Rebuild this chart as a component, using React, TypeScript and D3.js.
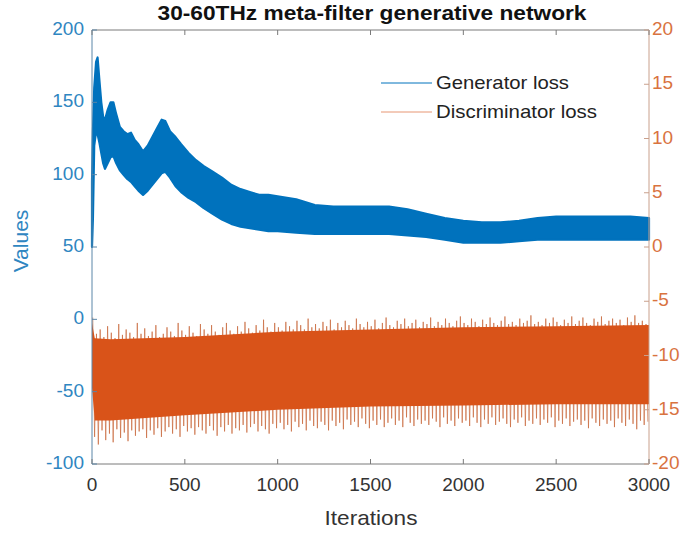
import React from "react";
import * as d3 from "d3";

// Generator loss envelope: [iteration, upper, lower] (left axis)
const genIter = [0, 5, 12, 22, 30, 40, 50, 60, 70, 85, 100, 115, 130, 150, 170, 190, 210, 230, 250, 275, 300, 325, 350, 375, 395, 420, 450, 480, 520, 560, 600, 650, 700, 750, 800, 850, 900, 950, 1000, 1100, 1200, 1300, 1400, 1500, 1600, 1700, 1800, 1900, 2000, 2100, 2200, 2300, 2400, 2500, 2600, 2700, 2800, 2900, 3000];
const genUpper = [95, 130, 160, 178, 181, 165, 150, 140, 138, 145, 150, 150, 142, 133, 130, 128, 129, 124, 121, 116, 120, 126, 132, 138, 137, 130, 126, 121, 115, 110, 106, 102, 98, 93, 90, 88, 86, 86, 85, 83, 79, 78, 78, 78, 78, 76, 73, 70, 68, 67, 67, 68, 70, 71, 71, 71, 71, 71, 70];
const genLower = [50, 70, 120, 130, 128, 122, 115, 108, 104, 108, 112, 113, 108, 103, 100, 97, 95, 92, 89, 86, 89, 93, 97, 101, 102, 98, 92, 88, 84, 81, 77, 73, 69, 66, 64, 63, 62, 61, 61, 60, 59, 59, 59, 59, 59, 58, 57, 55, 53, 53, 53, 54, 55, 55, 55, 55, 55, 55, 55];

// Discriminator loss dense core: [iteration, upper, lower] (right axis)
const discIter = [0, 15, 100, 500, 1000, 1500, 2000, 2500, 3000];
const discUpper = [-7, -8.4, -8.5, -8.3, -7.8, -7.6, -7.4, -7.3, -7.2];
const discLower = [-13, -16.0, -16.0, -15.5, -15.0, -14.7, -14.6, -14.5, -14.5];

// Discriminator local maxima / minima, one pair every 20 iterations
const discStep = 20;
const discPeakVals = [
  -6.5, -8.0, -7.6, -8.3, -7.3, -7.9, -8.4, -7.1, -8.1, -7.6,
  -7.9, -8.3, -7.0, -8.0, -7.5, -8.2, -7.8, -7.2, -8.3, -8.0,
  -7.4, -7.8, -8.2, -7.0, -7.7, -8.1, -7.3, -7.9, -8.2, -7.1,
  -7.6, -8.0, -7.2, -7.8, -8.1, -7.4, -7.0, -7.7, -8.0, -7.3,
  -7.8, -6.9, -7.5, -7.9, -7.2, -7.7, -6.7, -7.4, -7.8, -7.0,
  -7.4, -7.7, -6.9, -7.3, -7.6, -6.8, -7.2, -7.6, -6.6, -7.4,
  -7.1, -7.5, -6.9, -7.3, -6.7, -7.6, -7.0, -7.4, -6.8, -7.2,
  -7.5, -6.6, -7.1, -7.4, -6.9, -7.3, -6.7, -7.5, -7.0, -6.5,
  -7.2, -7.4, -6.8, -7.1, -6.6, -7.3, -7.0, -6.7, -7.4, -6.9,
  -7.1, -6.5, -7.3, -6.9, -7.2, -6.6, -7.0, -7.3, -6.8, -6.4,
  -7.0, -7.2, -6.6, -6.9, -7.3, -6.7, -7.1, -6.5, -7.0, -7.2,
  -6.8, -6.4, -7.1, -6.9, -7.2, -6.6, -7.0, -6.8, -6.3, -7.1,
  -6.9, -7.2, -6.6, -7.0, -6.5, -6.9, -7.2, -6.7, -7.0, -6.4,
  -7.1, -6.8, -6.5, -7.0, -7.2, -6.6, -6.9, -6.4, -7.1, -6.8,
  -6.6, -7.0, -6.7, -7.2, -6.5, -6.9, -6.3, -7.0, -6.8, -7.1,
];
const discDipVals = [
  -17.5, -18.2, -16.9, -17.8, -17.2, -18.0, -16.8, -17.6, -17.1, -17.9,
  -16.9, -17.4, -17.0, -16.8, -17.6, -16.9, -17.3, -16.7, -17.5, -17.0,
  -16.6, -17.2, -16.8, -17.5, -16.5, -17.0, -16.7, -17.3, -16.6, -16.9,
  -17.2, -16.5, -16.9, -17.4, -16.6, -17.0, -16.4, -17.2, -16.7, -16.9,
  -16.4, -17.1, -16.6, -16.3, -17.0, -16.5, -16.8, -17.2, -16.3, -16.7,
  -16.2, -16.8, -16.4, -17.0, -16.1, -16.6, -16.3, -16.9, -16.0, -16.5,
  -16.7, -16.1, -16.4, -16.9, -16.0, -16.5, -16.2, -16.8, -15.9, -16.4,
  -16.1, -16.6, -15.8, -16.3, -16.7, -16.0, -16.4, -15.9, -16.6, -16.2,
  -15.8, -16.4, -16.0, -16.6, -15.7, -16.2, -16.5, -15.9, -16.3, -16.0,
  -16.4, -15.8, -16.1, -16.6, -15.7, -16.3, -16.0, -16.5, -15.8, -16.2,
  -16.0, -16.5, -15.7, -16.2, -16.6, -15.9, -16.3, -15.7, -16.4, -16.1,
  -15.8, -16.3, -16.6, -15.9, -16.2, -15.7, -16.5, -16.0, -16.3, -15.8,
  -16.4, -15.9, -16.2, -15.7, -16.6, -16.0, -16.3, -15.8, -16.5, -16.1,
  -15.9, -16.4, -16.0, -16.7, -15.8, -16.2, -16.5, -15.9, -16.3, -16.0,
  -16.6, -15.8, -16.2, -16.5, -15.9, -16.3, -16.8, -16.0, -16.4, -16.1,
];

const xTicks = [0, 500, 1000, 1500, 2000, 2500, 3000];
const leftTicks = [-100, -50, 0, 50, 100, 150, 200];
const rightTicks = [-20, -15, -10, -5, 0, 5, 10, 15, 20];

const BLUE = "#0072BD";
const ORANGE = "#D95319";
const FONT = "'Liberation Sans', Arial, Helvetica, sans-serif";

export default function App() {
  const W = 688, H = 533;
  const L = 92, R = 649, T = 30, B = 464;
  const x = d3.scaleLinear().domain([0, 3000]).range([L, R]);
  const yL = d3.scaleLinear().domain([-100, 200]).range([B, T]);
  const yR = d3.scaleLinear().domain([-20, 20]).range([B, T]);

  const idx = genIter.map((_, i) => i);
  const genArea = d3.area<number>()
    .x((i) => x(genIter[i]))
    .y0((i) => yL(genLower[i]))
    .y1((i) => yL(genUpper[i]));

  const discArea = d3.area<number>()
    .x((i) => x(discIter[i]))
    .y0((i) => yR(discLower[i]))
    .y1((i) => yR(discUpper[i]));

  // discriminator trace: alternate between successive maxima and minima
  const discTrace: [number, number][] = [];
  discPeakVals.forEach((v, i) => {
    discTrace.push([i * discStep + 4, v]);
    discTrace.push([i * discStep + 14, discDipVals[i]]);
  });
  const traceLine = d3.line<[number, number]>()
    .x((d) => x(d[0]))
    .y((d) => yR(d[1]));

  const tickLen = 5;

  return (
    <svg width={W} height={H} style={{ position: "absolute", left: 0, top: 0, background: "#fff" }} fontFamily={FONT}>
      <rect width={W} height={H} fill="#fff" />
      {/* generator loss band */}
      <path d={genArea(idx) || ""} fill={BLUE} stroke={BLUE} strokeWidth={2.2} strokeLinejoin="round" />

      {/* discriminator loss band */}
      <path d={traceLine(discTrace) || ""} fill="none" stroke="#c9683c" strokeWidth={0.7} />
      <path d={discArea(discIter.map((_, i) => i)) || ""} fill={ORANGE} />

      {/* axes box */}
      <line x1={L} x2={R} y1={T} y2={T} stroke="#7a7a7a" strokeWidth={1} />
      <line x1={L} x2={R} y1={B} y2={B} stroke="#7a7a7a" strokeWidth={1} />
      <line x1={L} x2={L} y1={T} y2={B} stroke="#5b86a8" strokeWidth={1} />
      <line x1={R} x2={R} y1={T} y2={B} stroke="#c9a08c" strokeWidth={1} />

      {xTicks.map((t) => (
        <g key={"x" + t}>
          <line x1={x(t)} x2={x(t)} y1={B} y2={B - tickLen} stroke="#7a7a7a" />
          <line x1={x(t)} x2={x(t)} y1={T} y2={T + tickLen} stroke="#7a7a7a" />
          <text x={x(t)} y={486} textAnchor="middle" dominantBaseline="middle" fontSize={19} fill="#333">{t}</text>
        </g>
      ))}
      {leftTicks.map((t) => (
        <g key={"l" + t}>
          <line x1={L} x2={L + tickLen} y1={yL(t)} y2={yL(t)} stroke="#5b86a8" />
          <text x={84} y={yL(t)} textAnchor="end" dominantBaseline="middle" fontSize={19} fill="#2f86c1">{t}</text>
        </g>
      ))}
      {rightTicks.map((t) => (
        <g key={"r" + t}>
          <line x1={R} x2={R - tickLen} y1={yR(t)} y2={yR(t)} stroke="#c9a08c" />
          <text x={652} y={yR(t)} textAnchor="start" dominantBaseline="middle" fontSize={19} fill="#d9733f">{t}</text>
        </g>
      ))}

      <text x={372} y={15} textAnchor="middle" dominantBaseline="middle" fontSize={20} fontWeight="bold" fill="#111" textLength={429} lengthAdjust="spacingAndGlyphs">30-60THz meta-filter generative network</text>
      <text x={371} y={519} textAnchor="middle" dominantBaseline="middle" fontSize={21} fill="#333" textLength={93} lengthAdjust="spacingAndGlyphs">Iterations</text>
      <text transform={`translate(22,${(T + B) / 2 - 6}) rotate(-90)`} textAnchor="middle" dominantBaseline="middle" fontSize={21} fill="#2f86c1">Values</text>

      {/* legend */}
      <line x1={381} x2={432} y1={83} y2={83} stroke={BLUE} strokeWidth={1} />
      <text x={436} y={84} dominantBaseline="middle" fontSize={19} fill="#222" textLength={133} lengthAdjust="spacingAndGlyphs">Generator loss</text>
      <line x1={381} x2={432} y1={112} y2={112} stroke={ORANGE} strokeWidth={1} opacity={0.6} />
      <text x={436} y={113} dominantBaseline="middle" fontSize={19} fill="#222" textLength={161} lengthAdjust="spacingAndGlyphs">Discriminator loss</text>
    </svg>
  );
}
